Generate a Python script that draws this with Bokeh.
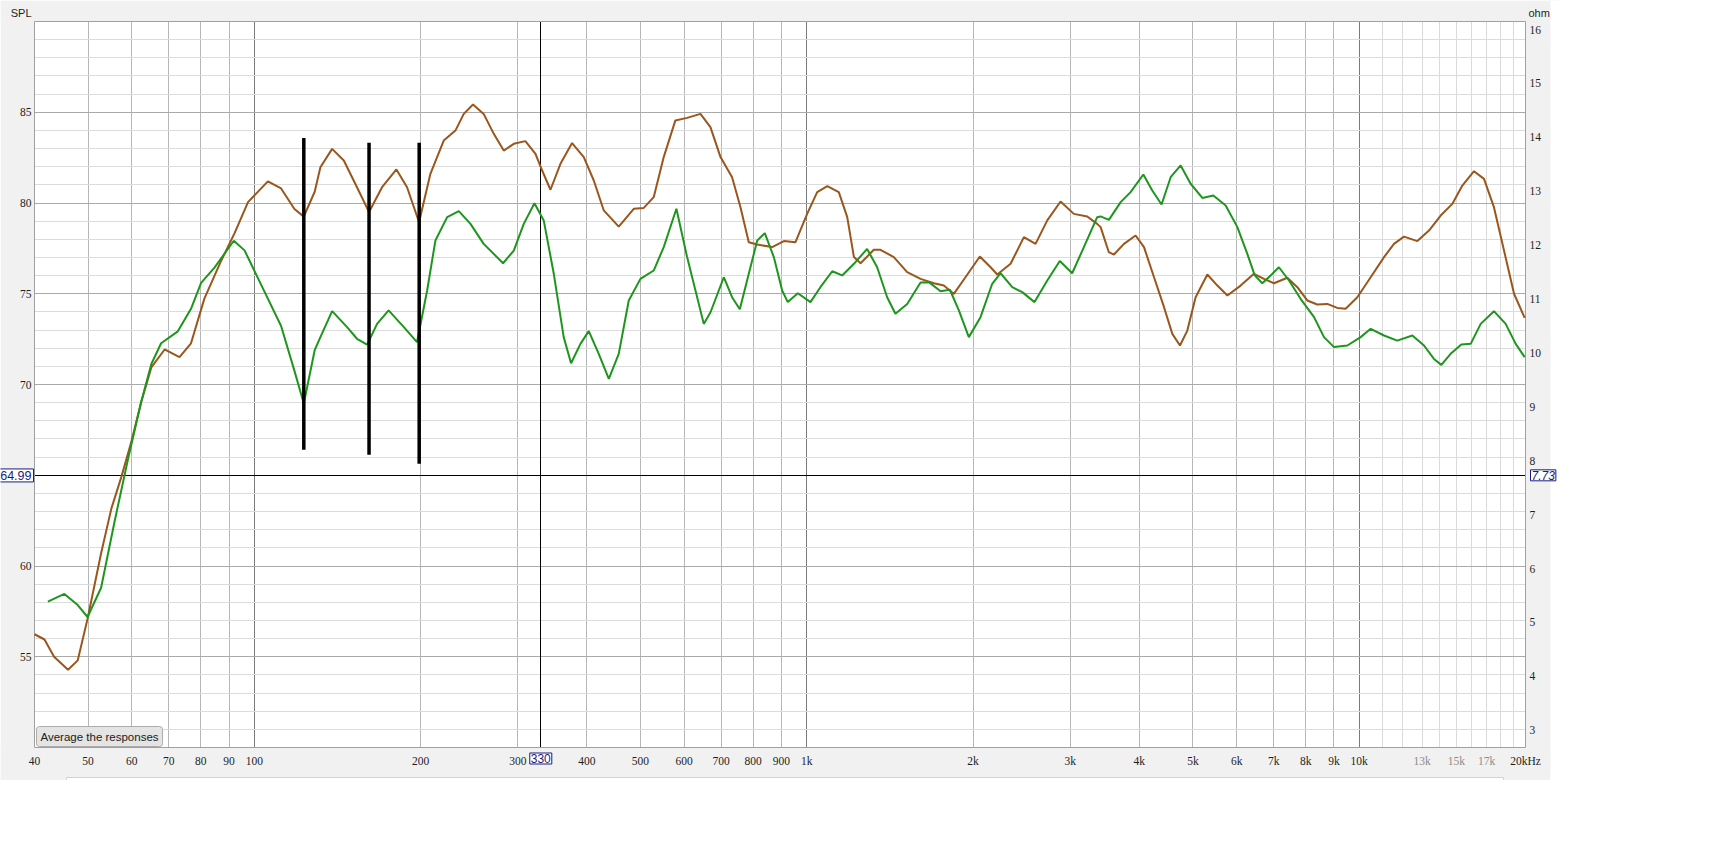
import math
from bokeh.plotting import figure
from bokeh.models import FixedTicker, Range1d, Grid, Label, BoxAnnotation
from bokeh.embed import file_html
from bokeh.resources import INLINE

# ---------------- data ----------------
brown_freq = [40, 41.7, 43.4, 46.0, 47.9, 49.9, 52.8, 55.1, 57.4, 59.8, 62.4, 65.1, 68.8, 73.2,
              76.8, 81.2, 87.1, 92.1, 97.4, 105.8, 111.8, 118.2, 122.9, 128.6, 131.7, 138.3,
              145.2, 153.4, 161.3, 170.3, 180.8, 189.0, 198.7, 208.3, 220.2, 231.2, 239.4,
              248.8, 260.1, 271.3, 282.8, 294.9, 309.5, 322.8, 331.9, 343.6, 358.2, 376.0,
              394.8, 411.6, 429.1, 456.7, 486.2, 506.9, 528.4, 550.9, 578.3, 607.3, 642.0,
              669.3, 698.0, 732.5, 758.6, 785.3, 813.4, 865.7, 909.2, 954.0, 1001.6, 1044.4,
              1089.3, 1142.8, 1183.7, 1217.2, 1251.3, 1322.3, 1359.8, 1437.4, 1519.8, 1606.8,
              1698.5, 1770.8, 1845.8, 1937.5, 2057.4, 2151.8, 2212, 2338.6, 2471.8, 2595, 2725,
              2880, 3044, 3219, 3355, 3403.6, 3522, 3598, 3751, 3938, 4078, 4252, 4433, 4589,
              4738, 4885, 5057, 5310, 5537, 5773, 6100, 6449, 6723, 7011, 7411, 7727, 8054,
              8396, 8754, 9127, 9451, 9922, 10490, 11090, 11560, 12052, 12743, 13376, 14043,
              14742, 15371, 16137, 16824, 17535, 18287, 19067, 19932]
brown_spl = [56.24, 55.95, 55.0, 54.28, 54.8, 57.09, 60.7, 63.16, 64.87, 66.77, 69.04, 70.94, 71.93,
             71.51, 72.27, 74.73, 76.82, 78.34, 80.05, 81.19, 80.8, 79.67, 79.25, 80.62, 81.97,
             82.98, 82.34, 80.87, 79.5, 80.87, 81.85, 80.87, 78.94, 81.61, 83.44, 83.99, 84.91,
             85.43, 84.91, 83.81, 82.89, 83.26, 83.41, 82.71, 81.79, 80.73, 82.16, 83.3, 82.53,
             81.24, 79.59, 78.7, 79.68, 79.73, 80.32, 82.53, 84.55, 84.69, 84.91, 84.18, 82.53,
             81.42, 79.77, 77.84, 77.71, 77.57, 77.9, 77.84, 79.4, 80.6, 80.93, 80.6, 79.22,
             77.02, 76.68, 77.42, 77.42, 77.02, 76.19, 75.82, 75.58, 75.45, 74.99, 75.91, 77.05,
             76.46, 76.06, 76.65, 78.12, 77.75, 79.04, 80.08, 79.4, 79.26, 78.85, 78.67, 77.29,
             77.16, 77.75, 78.21, 77.57, 75.91, 74.26, 72.79, 72.15, 72.97, 74.81, 76.06, 75.45,
             74.9, 75.45, 76.1, 75.82, 75.58, 75.88, 75.36, 74.63, 74.41, 74.44, 74.22, 74.17,
             74.81, 75.91, 77.02, 77.75, 78.15, 77.9, 78.48, 79.31, 79.95, 80.96, 81.75, 81.33,
             79.77, 77.38, 75.0, 73.67]

green_freq = [42.3, 45.3, 47.9, 49.9, 52.8, 55.8, 59.0, 62.4, 65.1, 67.8, 72.7, 76.8, 80.1, 84.7,
              91.8, 96.0, 105.8, 111.8, 118.2, 122.9, 128.6, 131.7, 138.3, 147.2, 153.4, 160.0,
              166.8, 175.0, 186.5, 197.0, 205.5, 212.7, 223.4, 234.5, 246.2, 260.1, 282.0, 294.9,
              307.4, 321.4, 334.1, 348.4, 363.1, 374.4, 389.3, 403.1, 420.2, 438.2, 456.7, 476.2,
              499.9, 528.4, 550.9, 580.8, 607.3, 651.0, 669.5, 707.7, 732.5, 756.5, 785.3, 813.4,
              839.5, 871.7, 902.5, 923.9, 963.4, 1015.6, 1058.5, 1112, 1159, 1217.2, 1286, 1341,
              1398, 1447, 1519.8, 1606.8, 1663.7, 1746.7, 1816, 1885, 1965, 2063, 2166, 2243,
              2355, 2455, 2584, 2725, 2871, 3023, 3174, 3355, 3403.6, 3523, 3700, 3856, 4067,
              4221, 4388, 4557, 4751, 4953, 5201, 5445, 5732, 6018, 6273, 6470, 6678, 6913, 7155,
              7464, 7832, 8285, 8635, 9003, 9517, 10061, 10490, 11090, 11719, 12481, 13101,
              13655, 14081, 14639, 15306, 15915, 16593, 17535, 18413, 19200, 19932]
green_spl = [58.04, 58.46, 57.85, 57.19, 58.8, 62.4, 65.82, 69.04, 71.13, 72.27, 72.93, 74.17, 75.6,
             76.44, 77.92, 77.39, 74.73, 73.22, 70.75, 68.95, 71.89, 72.61, 74.04, 73.16, 72.52,
             72.2, 73.34, 74.08, 73.16, 72.33, 75.18, 77.93, 79.22, 79.55, 78.85, 77.75, 76.68,
             77.38, 78.85, 79.99, 79.04, 76.1, 72.61, 71.17, 72.24, 72.94, 71.69, 70.31, 71.69,
             74.63, 75.82, 76.28, 77.57, 79.68, 77.02, 73.34, 73.98, 75.91, 74.81, 74.15, 76.1,
             77.93, 78.34, 77.02, 75.18, 74.54, 75.03, 74.54, 75.36, 76.24, 76.01, 76.65, 77.47,
             76.46, 74.81, 73.9, 74.44, 75.62, 75.64, 75.14, 75.22, 74.08, 72.61, 73.71, 75.55,
             76.13, 75.36, 75.09, 74.54, 75.73, 76.8, 76.13, 77.57, 79.22, 79.26, 79.07, 80.05,
             80.6, 81.57, 80.69, 79.92, 81.42, 82.07, 81.06, 80.28, 80.41, 79.86, 78.67, 77.2,
             76.01, 75.58, 76.01, 76.46, 75.73, 74.72, 73.71, 72.61, 72.06, 72.15, 72.61, 73.07,
             72.7, 72.42, 72.7, 72.15, 71.41, 71.08, 71.69, 72.2, 72.24, 73.34, 74.04, 73.34,
             72.24, 71.51]

# hand-drawn thick markers
marker_freq = [122.9, 161.3, 198.8]
marker_top = [83.58, 83.32, 83.32]
marker_bottom = [66.4, 66.13, 65.64]

# cursor
cursor_freq = 330
cursor_spl = 64.99
cursor_ohm = 7.73

# ticks
x_tick_values = [40, 50, 60, 70, 80, 90, 100, 200, 300, 400, 500, 600, 700, 800, 900,
                 1000, 2000, 3000, 4000, 5000, 6000, 7000, 8000, 9000, 10000, 20000]
x_tick_labels = ["40", "50", "60", "70", "80", "90", "100", "200", "300", "400", "500", "600",
                 "700", "800", "900", "1k", "2k", "3k", "4k", "5k", "6k", "7k", "8k", "9k",
                 "10k", "20kHz"]
x_faint_values = [13000, 15000, 17000]
x_faint_labels = ["13k", "15k", "17k"]
x_grid_normal = [50, 60, 70, 80, 90, 200, 300, 400, 500, 600, 700, 800, 900,
                 2000, 3000, 4000, 5000, 6000, 7000, 8000, 9000]
x_grid_decade = [100, 1000, 10000]
x_grid_fine = [11000, 12000, 13000, 14000, 15000, 16000, 17000, 18000, 19000]
spl_ticks = [55, 60, 65, 70, 75, 80, 85]
spl_fine = list(range(51, 90))
ohm_ticks = list(range(3, 17))

# ---------------- layout ----------------
F_MIN, F_MAX = 40, 20000
SPL_MIN, SPL_MAX = 50, 90
OHM_MIN, OHM_MAX = 2.68, 16.15
PLOT_L, PLOT_R, PLOT_T, PLOT_B = 34, 1525, 21, 747     # plot-area edges in px
W, H = 1560, 780
dec_px = math.log10(F_MAX / F_MIN) / (PLOT_R - PLOT_L)
spl_px = (SPL_MAX - SPL_MIN) / (PLOT_B - PLOT_T)
ohm_px = (OHM_MAX - OHM_MIN) / (PLOT_B - PLOT_T)


def px_to_freq(px):
    return F_MIN * 10 ** ((px - PLOT_L) * dec_px)


def px_to_spl(py):
    return SPL_MAX - (py - PLOT_T) * spl_px


def px_to_ohm(py):
    return OHM_MAX - (py - PLOT_T) * ohm_px


FONT = "Liberation Sans"
TXT = "#1e1e1e"
NAVY = "#1c1c80"
GRAY = "#f1f1f1"

p = figure(width=W, height=H, x_axis_type="log",
           x_range=Range1d(px_to_freq(0), px_to_freq(W)),
           y_range=Range1d(px_to_spl(H), px_to_spl(0)),
           x_axis_location=None, y_axis_location=None, min_border=0,
           output_backend="svg", toolbar_location=None,
           background_fill_color="white", border_fill_color=GRAY, outline_line_color=None)
p.extra_y_ranges = {"ohm": Range1d(px_to_ohm(H), px_to_ohm(0))}
p.grid.visible = False


def add_grid(dim, ticks, color, minor=None, minor_color=None, width=1):
    kw = dict(ticks=ticks)
    if minor:
        kw["minor_ticks"] = minor
    g = Grid(dimension=dim, ticker=FixedTicker(**kw), grid_line_color=color,
             grid_line_width=width, minor_grid_line_color=minor_color)
    g.bounds = (F_MIN, F_MAX) if dim == 0 else (SPL_MIN, SPL_MAX)
    try:
        g.cross_bounds = (SPL_MIN, SPL_MAX) if dim == 0 else (F_MIN, F_MAX)
    except AttributeError:
        pass
    p.add_layout(g)


# grids
add_grid(0, x_grid_normal, "#b6b6b6", x_grid_fine, "#dadada")
add_grid(0, x_grid_decade, "#7a7a7a")
add_grid(1, spl_ticks, "#aaaaaa", spl_fine, "#dcdcdc")
# cursor lines
add_grid(0, [cursor_freq], "black")
add_grid(1, [cursor_spl], "black")

# grey surround of the plot area
for kw in (dict(right=F_MIN), dict(left=F_MAX), dict(top=SPL_MIN), dict(bottom=SPL_MAX)):
    p.add_layout(BoxAnnotation(fill_color=GRAY, fill_alpha=1, line_color=None,
                               level="underlay", **kw))
p.add_layout(BoxAnnotation(left=F_MIN, right=F_MAX, bottom=SPL_MIN, top=SPL_MAX,
                           fill_alpha=0, line_color="#a0a0a0", line_alpha=1, line_width=1,
                           level="underlay"))
# panel edge below the chart
p.add_layout(BoxAnnotation(left=px_to_freq(66), right=px_to_freq(1503), top=px_to_spl(777),
                           fill_color="white", fill_alpha=1, line_color="#d2d2d2",
                           line_alpha=1, line_width=1, level="underlay"))
# white page beyond the chart window
p.add_layout(BoxAnnotation(left=px_to_freq(1550), fill_color="white", fill_alpha=1,
                           line_color=None, level="underlay"))

# curves
p.line(brown_freq, brown_spl, line_color="#9a561c", line_width=2)
p.line(green_freq, green_spl, line_color="#1e961e", line_width=2)

# thick markers
p.segment(x0=marker_freq, y0=marker_bottom, x1=marker_freq, y1=marker_top,
          line_color="black", line_width=3.5)

# tick labels
tick_style = dict(text_font=FONT, text_font_size="11.5px", text_color=TXT)
p.text(x=x_tick_values, y=[SPL_MIN] * len(x_tick_values), text=x_tick_labels,
       y_offset=13, text_align="center", text_baseline="middle", **tick_style)
p.text(x=x_faint_values, y=[SPL_MIN] * len(x_faint_values), text=x_faint_labels,
       y_offset=13, text_align="center", text_baseline="middle",
       text_font=FONT, text_font_size="11.5px", text_color="#8c8c8c")
p.text(x=[F_MIN] * len(spl_ticks), y=spl_ticks, text=[str(v) for v in spl_ticks],
       x_offset=-3, text_align="right", text_baseline="middle", **tick_style)
p.text(x=[F_MAX] * len(ohm_ticks), y=ohm_ticks, text=[str(v) for v in ohm_ticks],
       y_range_name="ohm", x_offset=4, text_align="left", text_baseline="middle", **tick_style)

# axis titles
p.add_layout(Label(x=F_MIN, y=SPL_MAX, x_offset=-3, y_offset=9, text="SPL", text_align="right",
                   text_baseline="middle", text_font=FONT, text_font_size="11px", text_color=TXT))
p.add_layout(Label(x=F_MAX, y=SPL_MAX, x_offset=3, y_offset=9, text="ohm", text_align="left",
                   text_baseline="middle", text_font=FONT, text_font_size="11px", text_color=TXT))

# cursor value boxes
p.add_layout(Label(x=cursor_freq, y=SPL_MIN, y_offset=-11, text=str(cursor_freq),
                   text_align="center", text_baseline="middle", text_font=FONT,
                   text_font_size="12px", text_color=NAVY,
                   background_fill_color="white", border_line_color=NAVY, padding=1))
p.add_layout(Label(x=F_MIN, y=cursor_spl, x_offset=-1, text=f"{cursor_spl:.2f}",
                   text_align="right", text_baseline="middle", text_font=FONT,
                   text_font_size="12.5px", text_color=NAVY,
                   background_fill_color="white", border_line_color=NAVY, padding=2))
p.add_layout(Label(x=F_MAX, y=cursor_ohm, y_range_name="ohm", x_offset=5,
                   text=f"{cursor_ohm:.2f}", text_align="left", text_baseline="middle",
                   text_font=FONT, text_font_size="12px", text_font_style="italic",
                   text_color=NAVY, background_fill_color="white", border_line_color=NAVY,
                   padding=1))

# button
p.add_layout(Label(x=F_MIN, y=SPL_MIN, x_offset=2, y_offset=1, text="Average the responses",
                   text_align="left", text_baseline="bottom", text_font=FONT,
                   text_font_size="11.5px", text_color="#202020",
                   background_fill_color="#e4e4e4", border_line_color="#acacac",
                   padding=4, border_radius=3))

open("out.html", "w").write(file_html(p, INLINE))
